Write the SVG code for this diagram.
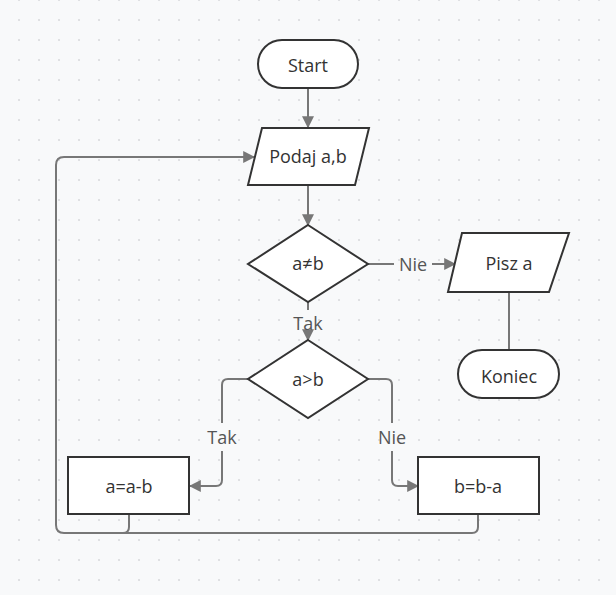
<svg xmlns="http://www.w3.org/2000/svg" width="616" height="595" viewBox="0 0 616 595">
<defs>
<pattern id="dots" x="19" y="0" width="20" height="20" patternUnits="userSpaceOnUse">
<circle cx="0" cy="0" r="1.1" fill="#d9dadd"/>
<circle cx="20" cy="0" r="1.1" fill="#d9dadd"/>
<circle cx="0" cy="20" r="1.1" fill="#d9dadd"/>
<circle cx="20" cy="20" r="1.1" fill="#d9dadd"/>
</pattern>
<marker id="arr" viewBox="0 0 10 10" refX="9" refY="5" markerWidth="6" markerHeight="6" orient="auto" markerUnits="strokeWidth">
<path d="M0,0 L10,5 L0,10 Z" fill="#777"/>
</marker>
<style>
.shape{fill:#fff;stroke:#333;stroke-width:2}
.conn{fill:none;stroke:#777;stroke-width:2}
.t{font-family:"Open Sans","Noto Sans",sans-serif;font-size:18px;fill:#333;text-anchor:middle;dominant-baseline:central}
.lbl{font-family:"Open Sans","Noto Sans",sans-serif;font-size:18px;fill:#555;text-anchor:middle;dominant-baseline:central}
.bg{fill:#f8f9fa}
</style>
</defs>
<rect class="bg" width="616" height="595"/>
<rect fill="url(#dots)" width="616" height="595"/>
<g id="connectors">
<path class="conn" d="M308,88 V127" marker-end="url(#arr)"/>
<path class="conn" d="M308,185 V225" marker-end="url(#arr)"/>
<path class="conn" d="M368,264 H394"/>
<path class="conn" d="M432,264 H455" marker-end="url(#arr)"/>
<path class="conn" d="M509,292 V350"/>
<path class="conn" d="M308,302 V310"/>
<path class="conn" d="M308,336 V340" marker-end="url(#arr)"/>
<path class="conn" d="M249,379 H228 Q222,379 222,385 V423"/>
<path class="conn" d="M222,451 V480 Q222,486 216,486 H190" marker-end="url(#arr)"/>
<path class="conn" d="M368,379 H386 Q392,379 392,385 V423"/>
<path class="conn" d="M392,451 V480 Q392,486 398,486 H418" marker-end="url(#arr)"/>
<path class="conn" d="M129,514 V527 Q129,533 123,533 H64 Q56,533 56,525 V165 Q56,157 64,157 H254" marker-end="url(#arr)"/>
<path class="conn" d="M478,514 V527 Q478,533 472,533 H123"/>
<text class="lbl" x="413" y="264">Nie</text>
<text class="lbl" x="308" y="323">Tak</text>
<text class="lbl" x="222" y="437">Tak</text>
<text class="lbl" x="392" y="437">Nie</text>
</g>
<g id="start">
<rect class="shape" x="258" y="40" width="100" height="48" rx="24"/>
<text class="t" x="308" y="65">Start</text>
</g>
<g id="podaj">
<polygon class="shape" points="262,128 369,128 355,185 248,185"/>
<text class="t" x="308" y="156">Podaj a,b</text>
</g>
<g id="cond1">
<polygon class="shape" points="308,225 368,264 308,302 248,264"/>
<text class="t" x="308" y="263">a≠b</text>
</g>
<g id="pisz">
<polygon class="shape" points="462,233 569,233 549,292 448,292"/>
<text class="t" x="509" y="263">Pisz a</text>
</g>
<g id="koniec">
<rect class="shape" x="458" y="350" width="101" height="48" rx="24"/>
<text class="t" x="509" y="376">Koniec</text>
</g>
<g id="cond2">
<polygon class="shape" points="308,340 368,379 308,418 248,379"/>
<text class="t" x="308" y="379">a&gt;b</text>
</g>
<g id="amb">
<rect class="shape" x="68" y="457" width="121" height="57"/>
<text class="t" x="129" y="486">a=a-b</text>
</g>
<g id="bma">
<rect class="shape" x="418" y="457" width="121" height="57"/>
<text class="t" x="478" y="486">b=b-a</text>
</g>
</svg>
